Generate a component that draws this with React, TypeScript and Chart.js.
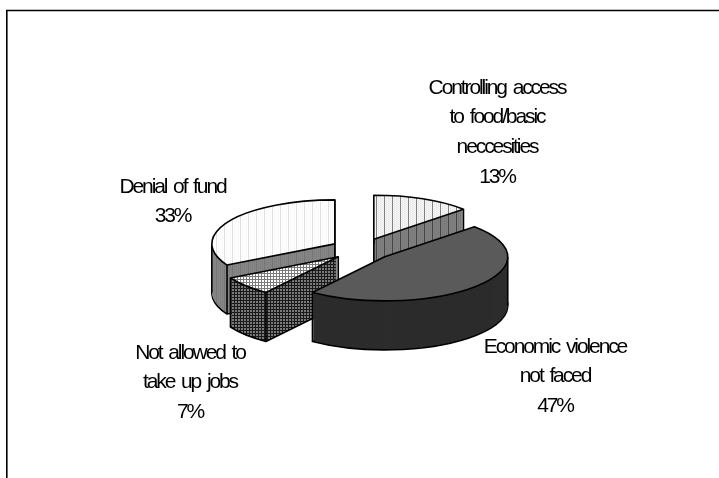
import React, { useEffect, useRef } from "react";
import { Chart, registerables } from "chart.js";

Chart.register(...registerables);

const categories = ["Controlling access to food/basic neccesities", "Economic violence not faced", "Not allowed to take up jobs", "Denial of fund"];
const values = [13, 47, 7, 33];
const labelLines = [
  ["Controlling access", "to food/basic", "neccesities", "13%"],
  ["Economic violence", "not faced", "47%"],
  ["Not allowed to", "take up jobs", "7%"],
  ["Denial of fund", "33%"],
];
const labelAnchors = [[497, 88], [555, 347], [190, 353], [172.5, 187]];
const drawOrder = [0, 3, 2, 1];

const SQUASH = 44 / 123;
const DEPTH = 49;
const LINE_HEIGHT = 29.7;

function hatch(ctx: CanvasRenderingContext2D, w: number, h: number, bg: string, paint: (c: CanvasRenderingContext2D) => void) {
  const cv = document.createElement("canvas");
  cv.width = w;
  cv.height = h;
  const c = cv.getContext("2d")!;
  c.fillStyle = bg;
  c.fillRect(0, 0, w, h);
  paint(c);
  return ctx.createPattern(cv, "repeat")!;
}

function vertical(ctx: CanvasRenderingContext2D, bg: string, line: string, dot: string) {
  return hatch(ctx, 8, 2, bg, (c) => {
    c.fillStyle = line;
    c.fillRect(0, 0, 1, 2);
    c.fillStyle = dot;
    c.fillRect(2, 0, 1, 1);
    c.fillRect(4, 1, 1, 1);
    c.fillRect(6, 0, 1, 1);
  });
}

function grid(ctx: CanvasRenderingContext2D, bg: string, line: string) {
  return hatch(ctx, 3, 3, bg, (c) => {
    c.fillStyle = line;
    c.fillRect(0, 0, 3, 1);
    c.fillRect(0, 0, 1, 3);
  });
}

const pie3d = {
  id: "pie3d",
  beforeDatasetsDraw(chart: any) {
    const ctx: CanvasRenderingContext2D = chart.ctx;
    const arcs = chart.getDatasetMeta(0).data;
    const styles = [
      { top: vertical(ctx, "#f4f4f4", "#808080", "#e2e2e2"), side: vertical(ctx, "#808080", "#444444", "#737373") },
      { top: "#5a5a5a", side: "#2c2c2c" },
      { top: grid(ctx, "#ffffff", "#7a7a7a"), side: grid(ctx, "#7a7a7a", "#1a1a1a") },
      { top: vertical(ctx, "#ffffff", "#e0e0e0", "#f4f4f4"), side: vertical(ctx, "#858585", "#767676", "#7e7e7e") },
    ];
    ctx.save();
    ctx.lineJoin = "round";
    ctx.lineWidth = 1.6;
    ctx.strokeStyle = "#000000";
    for (const i of drawOrder) {
      const a = arcs[i];
      const { x, y, startAngle, endAngle, outerRadius } = a.getProps(["x", "y", "startAngle", "endAngle", "outerRadius"], true);
      const mid = (startAngle + endAngle) / 2;
      const off = a.options.offset;
      const cx = x + Math.cos(mid) * off;
      const cy = y + Math.sin(mid) * off;
      const py = (v: number) => y + (v - y) * SQUASH;
      const path = (dy: number) => {
        ctx.save();
        ctx.translate(0, y + dy);
        ctx.scale(1, SQUASH);
        ctx.translate(0, -y);
        ctx.beginPath();
        ctx.moveTo(cx, cy);
        ctx.arc(cx, cy, outerRadius, startAngle, endAngle);
        ctx.closePath();
        ctx.restore();
      };
      ctx.fillStyle = styles[i].side as any;
      path(DEPTH);
      ctx.fill();
      ctx.stroke();
      for (let d = DEPTH - 1; d > 0; d--) {
        path(d);
        ctx.fill();
      }
      const rims: number[] = [startAngle, endAngle];
      for (const t of [0, Math.PI, 2 * Math.PI]) if (t > startAngle && t < endAngle) rims.push(t);
      const edge = (ex: number, ey: number) => {
        ctx.beginPath();
        ctx.moveTo(ex, py(ey));
        ctx.lineTo(ex, py(ey) + DEPTH);
        ctx.stroke();
      };
      const coversFront = startAngle < Math.PI / 2 && endAngle > Math.PI / 2;
      if (!coversFront) edge(cx, cy);
      for (const t of rims) edge(cx + Math.cos(t) * outerRadius, cy + Math.sin(t) * outerRadius);
      path(0);
      ctx.fillStyle = styles[i].top as any;
      ctx.fill();
      ctx.stroke();
    }
    ctx.restore();
    return false;
  },
  afterDraw(chart: any) {
    const ctx: CanvasRenderingContext2D = chart.ctx;
    ctx.save();
    ctx.strokeStyle = "#000000";
    ctx.lineWidth = 1.6;
    ctx.beginPath();
    ctx.moveTo(6.8, 478);
    ctx.lineTo(6.8, 10.5);
    ctx.lineTo(719, 10.5);
    ctx.stroke();
    ctx.fillStyle = "#000000";
    ctx.font = '21px "Liberation Sans"';
    (ctx as any).letterSpacing = "-2.1px";
    (ctx as any).wordSpacing = "3px";
    ctx.textAlign = "center";
    ctx.textBaseline = "middle";
    labelLines.forEach((lines, i) => {
      lines.forEach((t, j) => ctx.fillText(t, labelAnchors[i][0], labelAnchors[i][1] + j * LINE_HEIGHT));
    });
    ctx.restore();
  },
};

export default function App() {
  const ref = useRef<HTMLCanvasElement>(null);
  useEffect(() => {
    document.body.style.margin = "0";
    document.body.style.background = "#ffffff";
    const chart = new Chart(ref.current!, {
      type: "pie",
      data: {
        labels: categories,
        datasets: [{ data: values, offset: 31, borderWidth: 0, backgroundColor: "#808080" }],
      },
      options: {
        responsive: false,
        animation: false,
        radius: 123,
        layout: { padding: { left: 4, top: 21 } },
        plugins: { legend: { display: false }, tooltip: { enabled: false } },
      } as any,
      plugins: [pie3d],
    });
    return () => chart.destroy();
  }, []);
  return <canvas ref={ref} width={719} height={478} style={{ display: "block" }} />;
}
